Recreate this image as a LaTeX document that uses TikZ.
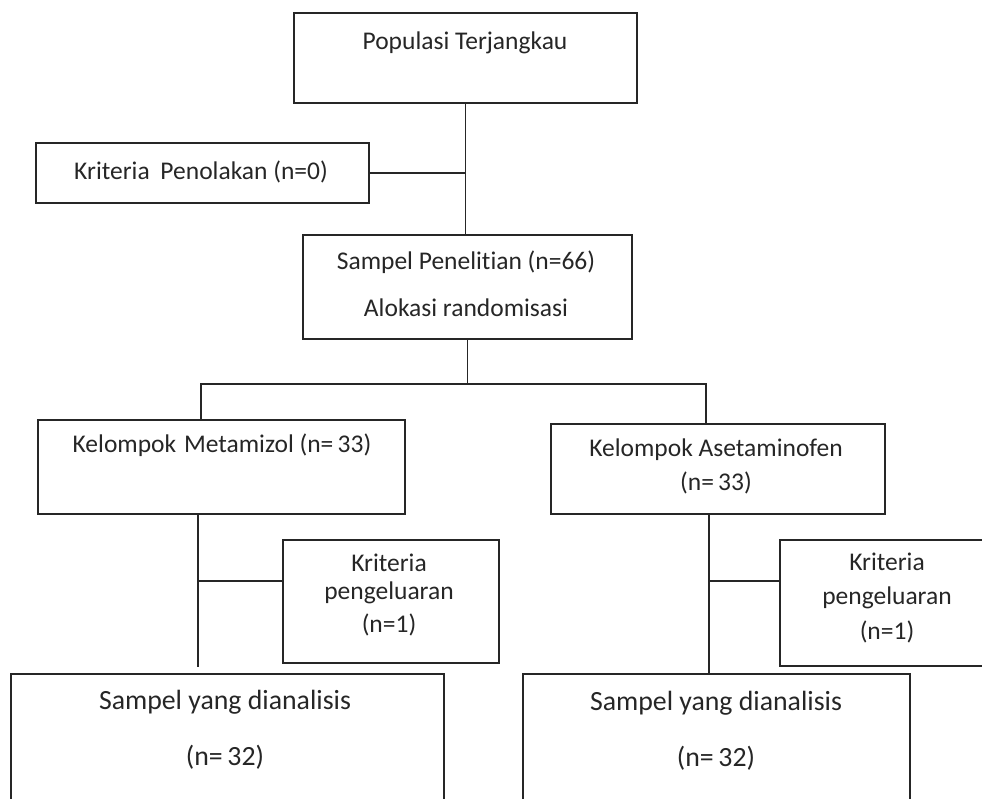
\documentclass[tikz,border=0pt]{standalone}
\usepackage{fontspec}
\setmainfont[Ligatures=NoCommon]{Carlito}
\begin{document}
\begin{tikzpicture}[x=1pt,y=-1pt,
  box/.style={draw=black!85, line width=1.5pt, rectangle, inner sep=0pt, outer sep=0pt, anchor=north west},
  lbl/.style={inner sep=0pt, font=\fontsize{25.5}{30}\selectfont, text=black!85},
  lblbig/.style={inner sep=0pt, font=\fontsize{27.8}{33}\selectfont, text=black!85},
  conn/.style={draw=black!85, line width=1.5pt}]
\useasboundingbox (0,0) rectangle (982,798);
\clip (0,0) rectangle (982,798);
% boxes
\node[box, minimum width=343pt, minimum height=90pt] (pop) at (294,13) {};
\node[box, minimum width=333pt, minimum height=60pt] (tol) at (36,143) {};
\node[box, minimum width=329pt, minimum height=104pt] (samp) at (303,235) {};
\node[box, minimum width=367pt, minimum height=94pt] (meta) at (38,420) {};
\node[box, minimum width=334pt, minimum height=90pt] (aset) at (551,424) {};
\node[box, minimum width=216pt, minimum height=123pt] (exL) at (283,540) {};
\node[box, minimum width=230pt, minimum height=126pt] (exR) at (780,540) {};
\node[box, minimum width=433pt, minimum height=160pt] (anL) at (11,674) {};
\node[box, minimum width=387pt, minimum height=160pt] (anR) at (523,674) {};
% texts
\node[lbl] (tpop) at (465,43) {Populasi Terjangkau};
\node[lbl] (ttol) at (201,172) {Kriteria\hspace{5pt} Penolakan (n=0)};
\node[lbl] (tsamp1) at (466,262) {Sampel Penelitian (n=66)};
\node[lbl] (tsamp2) at (466,308) {Alokasi randomisasi};
\node[lbl] (tmeta) at (222,445) {Kelompok\hspace{2pt} Metamizol (n=\,33)};
\node[lbl] (taset1) at (716,450) {Kelompok Asetaminofen};
\node[lbl] (taset2) at (716,483) {(n=\,33)};
\node[lbl] (texL1) at (389,563) {Kriteria};
\node[lbl] (texL2) at (389,593) {pengeluaran};
\node[lbl] (texL3) at (389,625) {(n=1)};
\node[lbl] (texR1) at (887,562) {Kriteria};
\node[lbl] (texR2) at (887,598) {pengeluaran};
\node[lbl] (texR3) at (887,632) {(n=1)};
\node[lblbig] (tanL1) at (225,702) {Sampel yang dianalisis};
\node[lblbig] (tanL2) at (225,757) {(n=\,32)};
\node[lblbig] (tanR1) at (716,703) {Sampel yang dianalisis};
\node[lblbig] (tanR2) at (716,758) {(n=\,32)};
% connectors
\draw[conn] (pop.south) -- (pop.south |- samp.north);
\draw[conn] (tol.east) -- (tol.east -| pop.south);
\coordinate (split) at (467,384);
\coordinate (mL) at (201,384);
\coordinate (mR) at (706,384);
\draw[conn] (samp.south) -- (samp.south |- split);
\draw[conn] (mL |- meta.north) -- (mL) -- (mR) -- (mR |- aset.north);
\coordinate (vL) at (198,667);
\coordinate (hL) at (198,581);
\draw[conn] (vL |- meta.south) -- (vL);
\draw[conn] (hL) -- (hL -| exL.west);
\coordinate (hR) at (709,581);
\draw[conn] (hR |- aset.south) -- (hR |- anR.north);
\draw[conn] (hR) -- (hR -| exR.west);
\end{tikzpicture}
\end{document}
